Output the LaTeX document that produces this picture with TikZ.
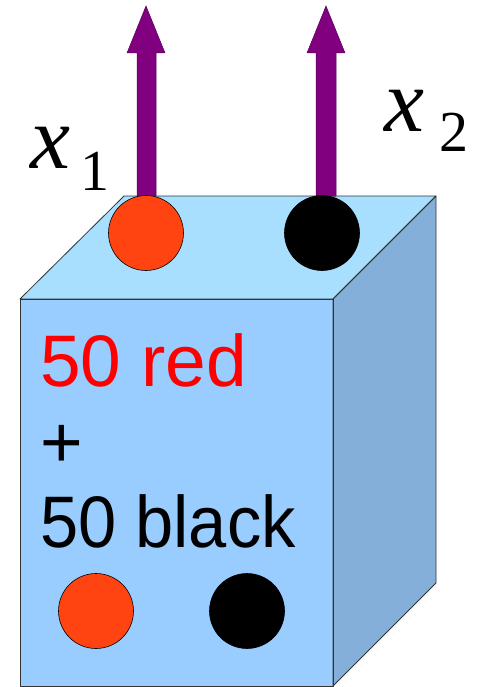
\documentclass[tikz,border=0pt]{standalone}
\usepackage{fontspec}
\setmainfont{Liberation Serif}
\newfontfamily\arialf{Liberation Sans}
\definecolor{frontc}{HTML}{99CCFF}
\definecolor{topc}{HTML}{A8DFFF}
\definecolor{sidec}{HTML}{84AFD8}
\definecolor{ballred}{HTML}{FF4411}
\definecolor{arrowc}{HTML}{800080}
\tikzset{
  face/.style={draw=black!80, line width=0.8pt, line join=round},
  ball/.style={circle, minimum size=75pt, inner sep=0pt, draw=black, line width=0.6pt},
  arrowshape/.style={fill=arrowc, draw=arrowc!70!black, line width=0.5pt},
  bigtext/.style={anchor=base west, inner sep=0pt, font=\arialf\fontsize{73}{80}\selectfont},
  varx/.style={anchor=base west, inner sep=0pt, font=\itshape\fontsize{90}{90}\selectfont},
  subx/.style={anchor=base west, inner sep=0pt, font=\fontsize{58}{58}\selectfont}
}
\begin{document}
\begin{tikzpicture}[x=1pt,y=-1pt]
\useasboundingbox (0,0) rectangle (478,687);
% box faces
\coordinate (FTL) at (20,299);
\coordinate (FTR) at (333,299);
\coordinate (FBL) at (20,686);
\coordinate (FBR) at (333,686);
\coordinate (BTL) at (124,196);
\coordinate (BTR) at (436,196);
\coordinate (BBR) at (436,583);
\fill[topc] (FTL) -- (BTL) -- (BTR) -- (FTR) -- cycle;
\fill[sidec] (FTR) -- (BTR) -- (BBR) -- (FBR) -- cycle;
\fill[frontc] (FTL) -- (FTR) -- (FBR) -- (FBL) -- cycle;
\draw[face] (FTL) -- (BTL) -- (BTR) -- (FTR) -- cycle;
\draw[face] (FTR) -- (BTR) -- (BBR) -- (FBR) -- cycle;
\draw[face] (FTL) -- (FTR) -- (FBR) -- (FBL) -- cycle;
% arrows
\draw[arrowshape] (137,196) -- (137,53) -- (127,53) -- (146,6) -- (165,53) -- (156,53) -- (156,196) -- cycle;
\draw[arrowshape] (316,196) -- (316,53) -- (307,53) -- (326,6) -- (345,53) -- (336,53) -- (336,196) -- cycle;
% top balls
\node[ball, fill=ballred] (r1) at (146,233) {};
\node[ball, fill=black] (b1) at (322,233) {};
% labels
\node[varx] (x1) at (30,168) {x};
\node[subx] (s1) at (80,190) {1};
\node[varx] (x2) at (384,132) {x};
\node[subx] (s2) at (439,152) {2};
% front text
\node[bigtext, text=red] (t1) at (40,386) {50 red};
\node[bigtext] (t2) at (40,467) {+};
\node[bigtext] (t3) at (40,547) {\scalebox{0.94}[1]{50 black}};
% bottom balls
\node[ball, fill=ballred] (r2) at (96,611) {};
\node[ball, fill=black] (b2) at (247,611) {};
\end{tikzpicture}
\end{document}
